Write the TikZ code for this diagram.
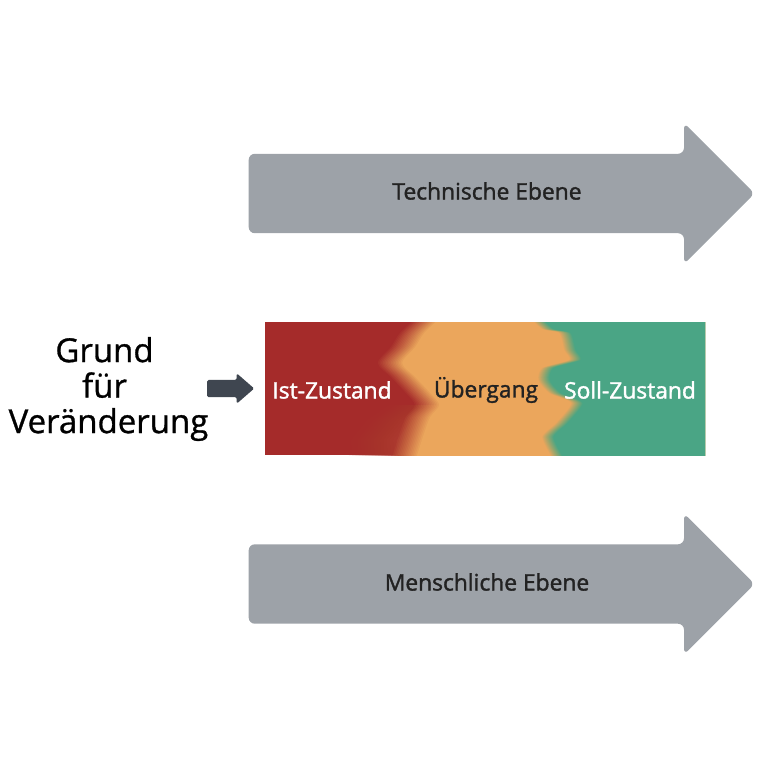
\documentclass[tikz,border=0pt]{standalone}
\usepackage{fontspec}
\setmainfont{Open Sans}
\newfontfamily\labelfont[FakeBold=1.6]{Open Sans}
\newfontfamily\reasonfont[FakeBold=0.9]{Open Sans}
\usetikzlibrary{shapes.arrows}

\definecolor{arrowgrey}{HTML}{9DA2A8}
\definecolor{darkarrow}{HTML}{3F4650}
\definecolor{istred}{HTML}{A52B2A}
\definecolor{uebergangorange}{HTML}{EBA65C}
\definecolor{sollgreen}{HTML}{4AA585}
\definecolor{labeldark}{HTML}{222222}

\tikzset{
  bigarrow/.style={shape=single arrow, fill=arrowgrey, rounded corners=6pt, anchor=tip,
    inner sep=0pt, minimum height=506pt, minimum width=141pt,
    single arrow head extend=31pt, single arrow tip angle=90,
    text height=79pt, text width=1pt},
  smallarrow/.style={shape=single arrow, fill=darkarrow, rounded corners=1.5pt, anchor=tip,
    inner sep=0pt, minimum height=47pt, minimum width=30pt,
    single arrow head extend=6.5pt, single arrow tip angle=82,
    text height=17pt, text width=1pt},
  arrowtext/.style={font=\labelfont\fontsize{22.8}{26}\selectfont, text=labeldark},
  statetext/.style={font=\labelfont\fontsize{22.8}{26}\selectfont},
  reasontext/.style={font=\reasonfont\fontsize{33}{35.5}\selectfont, align=center, text=black}
}

% weicher Rand: viele seitlich versetzte Kopien, die letzte deckend
\newcommand{\softpatch}[3]{%
  \foreach \i in {1,...,16}{
    \pgfmathsetmacro{\alphaval}{1/(17-\i)}
    \path[fill=#2, fill opacity=\alphaval, xshift={#1*(2*\i-17)/16*1pt}] #3;
  }
}

\begin{document}
\begin{tikzpicture}[x=1pt,y=-1pt]
\useasboundingbox (0,0) rectangle (767,760);

% Pfeile oben und unten
\node (technisch) [bigarrow] at (755,193.5) {};
\node (menschlich) [bigarrow] at (755,584) {};
\node (technischtext) [arrowtext] at (487,191) {Technische Ebene};
\node (menschlichtext) [arrowtext] at (487,582) {Menschliche Ebene};

% Farbverlauf in der Mitte
\begin{scope}
\clip (265,322) rectangle (705,455);
\fill[istred] (265,322) rectangle (705,455);
\softpatch{26}{istred!88!uebergangorange}{(375,480) -- (372,440) -- (388,420) -- (410,405) -- (440,405) -- (440,480) -- cycle}
\softpatch{13}{uebergangorange}{plot[smooth, tension=0.5] coordinates {(428,318) (412,333) (403,347) (390,363) (403,377) (418,393) (427,405) (418,417) (412,433) (404,458)} -- (770,458) -- (770,318) -- cycle}
\softpatch{6}{sollgreen}{plot[smooth, tension=0.4] coordinates {(536,318) (548,329) (565,333) (570,350) (575,360) (548,368) (544,380) (555,393) (577,403) (562,423) (548,437) (558,458)} -- (770,458) -- (770,318) -- cycle}
\end{scope}

% Zustaende
\node (ist) [statetext, text=white] at (332,390) {Ist-Zustand};
\node (uebergang) [statetext, text=labeldark] at (486,390) {Übergang};
\node (soll) [statetext, text=white] at (630,390) {Soll-Zustand};

% linke Seite
\node (grund) [reasontext] at (108.5,389) {Grund\kern8pt\\für\kern8pt\\Veränderung};
\node (pfeil) [smallarrow] at (254.5,388.5) {};
\end{tikzpicture}
\end{document}
